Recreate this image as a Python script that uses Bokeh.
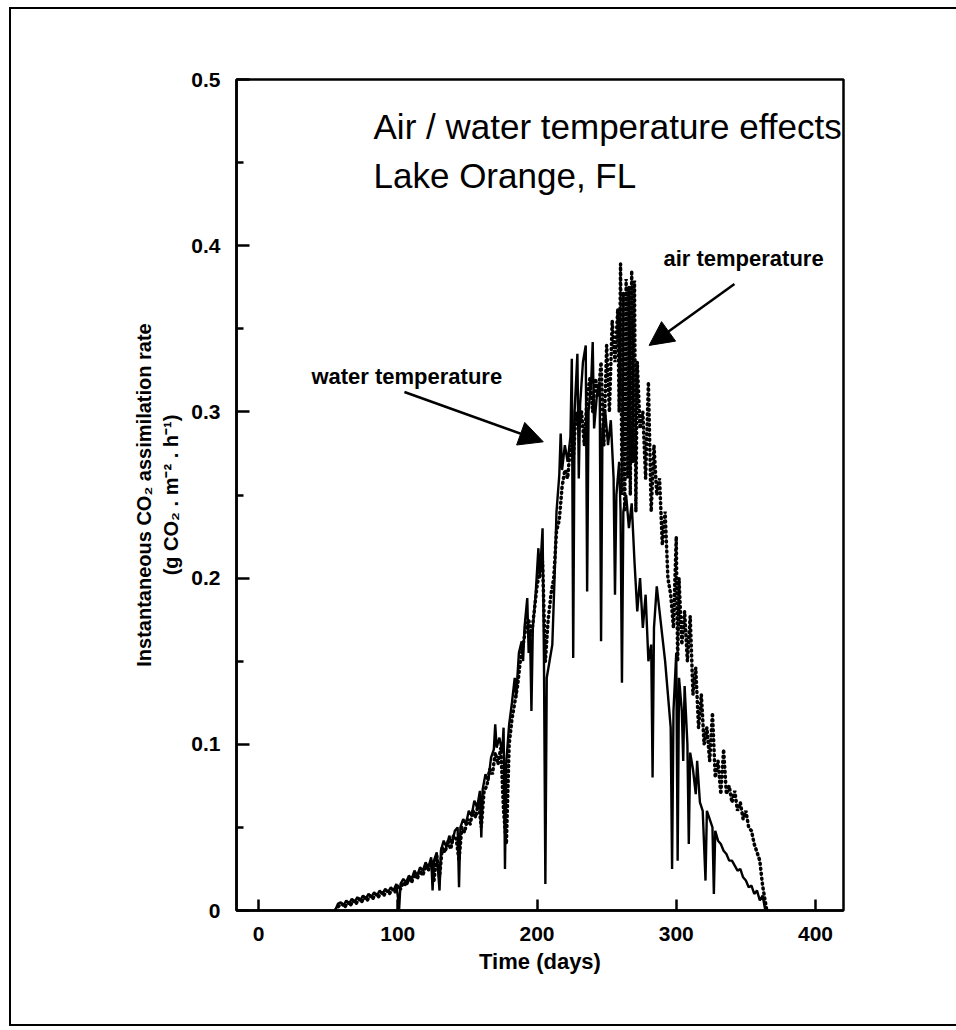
from bokeh.plotting import figure
from bokeh.models import (Range1d, FixedTicker, NumeralTickFormatter, Label, Arrow, NormalHead,
                          LinearAxis)
from bokeh.embed import file_html
from bokeh.resources import INLINE

# ---------------- data ----------------
water_day = [55, 57, 59, 61, 63, 65, 67, 69, 71, 73, 75, 77, 79, 81, 83, 85, 87, 89, 91, 93,
             95, 97, 99, 101, 102, 104, 106, 108, 110, 112, 114, 116, 118, 120, 122, 124, 125,
             126, 128, 130, 131, 133, 135, 137, 139, 141, 143, 144, 145, 147, 149, 151, 153,
             155, 157, 159, 160, 161, 163, 165, 167, 169, 170, 171, 173, 175, 176, 177, 178,
             180, 182, 184, 185, 187, 189, 190, 191, 193, 194, 195, 196, 197, 199, 201, 202,
             204, 205, 206, 207, 209, 211, 213, 214, 216, 217, 218, 220, 222, 224, 225, 226,
             227, 229, 230, 231, 233, 235, 236, 237, 239, 240, 241, 243, 245, 246, 247, 249,
             251, 253, 255, 256, 257, 259, 260, 261, 262, 264, 266, 268, 270, 272, 274, 276,
             278, 280, 282, 283, 284, 286, 288, 290, 292, 294, 296, 297, 298, 300, 301, 302,
             304, 305, 306, 308, 309, 310, 312, 314, 315, 317, 319, 321, 322, 324, 326, 327,
             328, 330, 332, 334, 336, 338, 340, 342, 344, 346, 348, 350, 352, 354, 356, 358,
             360, 362, 364]
water_val = [0.000, 0.004, 0.005, 0.003, 0.006, 0.004, 0.007, 0.005, 0.008, 0.006, 0.009,
             0.007, 0.010, 0.008, 0.011, 0.009, 0.012, 0.010, 0.013, 0.011, 0.014, 0.012,
             0.016, 0.001, 0.016, 0.019, 0.017, 0.021, 0.019, 0.024, 0.021, 0.026, 0.024,
             0.029, 0.026, 0.032, 0.012, 0.030, 0.035, 0.012, 0.036, 0.042, 0.038, 0.045,
             0.040, 0.048, 0.050, 0.014, 0.050, 0.055, 0.052, 0.060, 0.057, 0.066, 0.062,
             0.072, 0.044, 0.073, 0.082, 0.078, 0.092, 0.097, 0.112, 0.098, 0.104, 0.095,
             0.110, 0.025, 0.090, 0.112, 0.125, 0.140, 0.128, 0.155, 0.162, 0.150, 0.170,
             0.188, 0.155, 0.168, 0.120, 0.170, 0.190, 0.218, 0.200, 0.230, 0.150, 0.016,
             0.140, 0.150, 0.160, 0.210, 0.240, 0.262, 0.287, 0.265, 0.280, 0.270, 0.285,
             0.332, 0.152, 0.300, 0.335, 0.260, 0.305, 0.330, 0.340, 0.192, 0.300, 0.320,
             0.342, 0.290, 0.310, 0.318, 0.162, 0.290, 0.300, 0.280, 0.295, 0.260, 0.190,
             0.250, 0.270, 0.240, 0.137, 0.240, 0.250, 0.230, 0.245, 0.210, 0.180, 0.200,
             0.170, 0.190, 0.150, 0.160, 0.080, 0.170, 0.195, 0.180, 0.165, 0.150, 0.130,
             0.110, 0.025, 0.120, 0.155, 0.030, 0.140, 0.120, 0.090, 0.135, 0.100, 0.040,
             0.095, 0.085, 0.070, 0.090, 0.065, 0.060, 0.018, 0.060, 0.055, 0.050, 0.010,
             0.048, 0.042, 0.040, 0.036, 0.034, 0.030, 0.030, 0.027, 0.024, 0.025, 0.020,
             0.018, 0.014, 0.015, 0.010, 0.012, 0.006, 0.009, 0.000]

air_day = [55, 58, 60, 62, 64, 66, 68, 70, 72, 74, 76, 78, 80, 82, 84, 86, 88, 90, 92, 94,
           96, 98, 100, 102, 104, 106, 108, 110, 112, 114, 116, 118, 120, 122, 124, 126, 128,
           130, 132, 134, 136, 138, 140, 142, 144, 146, 148, 150, 152, 154, 156, 158, 160,
           162, 164, 166, 168, 170, 172, 174, 176, 178, 180, 182, 184, 186, 188, 190, 192,
           194, 196, 198, 200, 202, 204, 206, 208, 210, 212, 214, 216, 218, 220, 222, 224,
           226, 228, 230, 232, 234, 236, 238, 240, 242, 244, 246, 248, 250, 252, 254, 256,
           258, 259, 260, 261, 262, 263, 264, 265, 266, 267, 268, 269, 270, 271, 272, 274,
           276, 278, 280, 282, 284, 286, 288, 290, 292, 294, 296, 298, 300, 301, 302, 304,
           306, 308, 310, 312, 314, 316, 318, 320, 322, 324, 326, 328, 330, 332, 334, 336,
           338, 340, 342, 344, 346, 348, 350, 352, 354, 356, 358, 360, 362, 364, 365]
air_val = [0.000, 0.003, 0.004, 0.002, 0.005, 0.003, 0.006, 0.004, 0.007, 0.005, 0.008,
           0.006, 0.009, 0.007, 0.010, 0.008, 0.011, 0.009, 0.012, 0.010, 0.013, 0.011,
           0.015, 0.013, 0.017, 0.015, 0.019, 0.017, 0.022, 0.019, 0.024, 0.021, 0.027,
           0.024, 0.030, 0.018, 0.033, 0.020, 0.038, 0.035, 0.042, 0.037, 0.045, 0.043,
           0.030, 0.050, 0.047, 0.055, 0.052, 0.060, 0.056, 0.066, 0.050, 0.072, 0.075,
           0.085, 0.082, 0.095, 0.088, 0.098, 0.060, 0.040, 0.100, 0.115, 0.125, 0.135,
           0.150, 0.160, 0.170, 0.175, 0.165, 0.180, 0.195, 0.205, 0.210, 0.150, 0.175,
           0.190, 0.200, 0.228, 0.235, 0.255, 0.265, 0.260, 0.280, 0.270, 0.300, 0.290,
           0.300, 0.280, 0.310, 0.320, 0.300, 0.320, 0.310, 0.330, 0.280, 0.340, 0.300,
           0.355, 0.330, 0.362, 0.300, 0.389, 0.250, 0.372, 0.240, 0.380, 0.260, 0.375,
           0.250, 0.385, 0.270, 0.379, 0.240, 0.330, 0.290, 0.300, 0.260, 0.318, 0.240,
           0.280, 0.250, 0.260, 0.220, 0.240, 0.200, 0.190, 0.170, 0.225, 0.150, 0.200,
           0.160, 0.180, 0.150, 0.177, 0.130, 0.146, 0.110, 0.130, 0.100, 0.110, 0.090,
           0.119, 0.080, 0.090, 0.070, 0.097, 0.070, 0.075, 0.065, 0.072, 0.060, 0.065,
           0.055, 0.060, 0.050, 0.048, 0.040, 0.035, 0.030, 0.015, 0.005, 0.000]

x_ticks = [0, 100, 200, 300, 400]
y_ticks = [0, 0.1, 0.2, 0.3, 0.4, 0.5]
y_minor_ticks = [0.05, 0.15, 0.25, 0.35, 0.45]

title_lines = ["Air / water temperature effects", "Lake Orange, FL"]
y_label_lines = ["Instantaneous CO\u2082 assimilation rate",
                 "(g CO\u2082 . m\u207b\u00b2 . h\u207b\u00b9)"]
x_label = "Time (days)"
water_note = "water temperature"
air_note = "air temperature"

# annotation anchor points (data units: day, rate)
title_pos = [(82.6, 0.4717), (82.6, 0.4424)]
water_note_pos = (38.0, 0.321)
air_note_pos = (290.8, 0.392)
water_arrow = (104.8, 0.312, 204.5, 0.282)
air_arrow = (341.8, 0.377, 280.5, 0.340)

FONT = "Liberation Sans"

# ---------------- figure ----------------
p = figure(width=947, height=1019, output_backend="svg", toolbar_location=None,
           title=None, x_range=Range1d(-15.8, 420.1), y_range=Range1d(0, 0.5),
           min_border_left=225, min_border_right=115, min_border_top=70,
           min_border_bottom=118)
p.styles = {"border-left": "2px solid black", "border-top": "2px solid black",
            "border-bottom": "2px solid black", "box-sizing": "border-box",
            "margin-left": "9px", "margin-top": "7px"}
p.grid.visible = False
p.outline_line_color = "black"
p.outline_line_width = 2.5
p.background_fill_color = "white"
p.border_fill_color = "white"

xa = p.xaxis[0]
ya = p.yaxis[0]
for ax in (xa, ya):
    ax.axis_line_width = 2.5
    ax.axis_line_color = "black"
    ax.major_tick_line_width = 2.5
    ax.minor_tick_line_width = 2.5
    ax.major_tick_line_color = "black"
    ax.minor_tick_line_color = "black"
    ax.major_tick_out = 0
    ax.minor_tick_out = 0
    ax.major_label_text_font = FONT
    ax.major_label_text_font_style = "bold"
    ax.major_label_text_font_size = "21px"
    ax.major_label_text_color = "black"
    ax.axis_label_text_font = FONT
    ax.axis_label_text_font_style = "bold"
    ax.axis_label_text_color = "black"

xa.ticker = FixedTicker(ticks=x_ticks)
xa.major_tick_in = 11
xa.minor_tick_in = 0
xa.major_label_standoff = 16
xa.axis_label = x_label
xa.axis_label_text_font_size = "22px"
xa.axis_label_standoff = 5

ya.ticker = FixedTicker(ticks=y_ticks, minor_ticks=y_minor_ticks)
ya.formatter = NumeralTickFormatter(format="0.[0]")
ya.major_tick_in = 13
ya.minor_tick_in = 7
ya.major_label_standoff = 16
ya.axis_label = y_label_lines[1]
ya.axis_label_text_font_size = "20px"
ya.axis_label_standoff = 6

# outer (label-only) axis carrying the first line of the y title
ya2 = LinearAxis(ticker=FixedTicker(ticks=[]), axis_label=y_label_lines[0],
                 axis_line_color=None, major_tick_line_color=None,
                 minor_tick_line_color=None, major_tick_out=0, major_tick_in=0,
                 minor_tick_out=0, minor_tick_in=0, major_label_standoff=0,
                 axis_label_standoff=3, axis_label_text_font=FONT,
                 axis_label_text_font_style="bold", axis_label_text_font_size="20px",
                 axis_label_text_color="black")
p.add_layout(ya2, "left")

# ---------------- series ----------------
p.line(air_day, air_val, line_color="black", line_width=3.5, line_dash="1 4",
       line_cap="round")
p.line(water_day, water_val, line_color="black", line_width=2.4)

# ---------------- texts ----------------
for (tx, ty), t in zip(title_pos, title_lines):
    p.add_layout(Label(x=tx, y=ty, text=t, text_font=FONT, text_font_size="35px",
                       text_baseline="alphabetic", text_color="black"))

p.add_layout(Label(x=water_note_pos[0], y=water_note_pos[1], text=water_note, text_font=FONT,
                   text_font_style="bold", text_font_size="22px", text_baseline="middle",
                   text_color="black"))
p.add_layout(Label(x=air_note_pos[0], y=air_note_pos[1], text=air_note, text_font=FONT,
                   text_font_style="bold", text_font_size="22px", text_baseline="middle",
                   text_color="black"))

# ---------------- arrows ----------------
for (x0, y0, x1, y1) in (water_arrow, air_arrow):
    p.add_layout(Arrow(end=NormalHead(size=24, fill_color="black", line_color="black"),
                       x_start=x0, y_start=y0, x_end=x1, y_end=y1,
                       line_width=2.5, line_color="black"))

open("out.html", "w").write(file_html(p, INLINE))
